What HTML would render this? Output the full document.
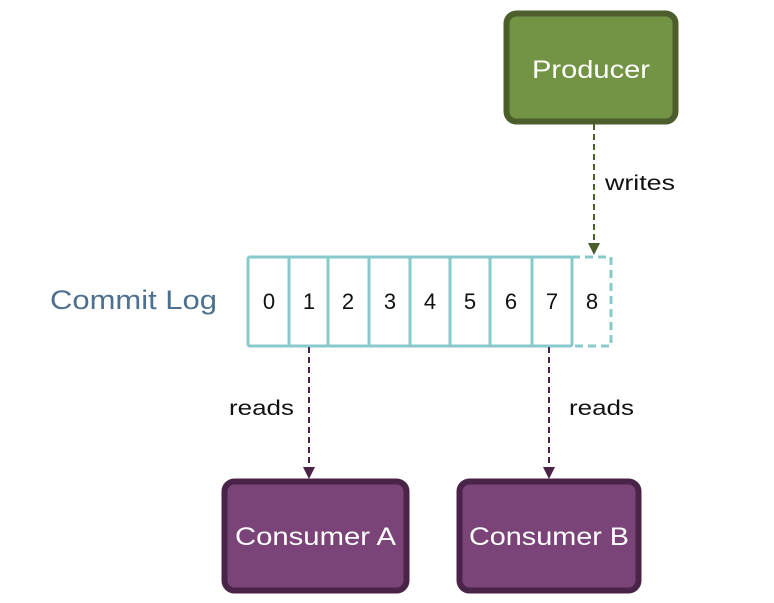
<!DOCTYPE html>
<html><head><style>body{margin:0;background:#fff}svg{display:block}</style></head><body>
<svg width="774" height="603" viewBox="0 0 774 603" xmlns="http://www.w3.org/2000/svg" font-family="'Liberation Sans', sans-serif">
<rect x="506.5" y="13.5" width="169" height="108" rx="10" fill="#739345" stroke="#4b5e2b" stroke-width="6"/>
<text x="532" y="78" font-size="25" fill="#fff" textLength="118" lengthAdjust="spacingAndGlyphs">Producer</text>
<line x1="594" y1="124" x2="594" y2="244" stroke="#4b5e2b" stroke-width="2" stroke-dasharray="6,4"/>
<polygon points="588,243 600,243 594,255" fill="#4b5e2b"/>
<text x="605" y="190" font-size="21" fill="#111" textLength="70" lengthAdjust="spacingAndGlyphs">writes</text>
<text x="50" y="309" font-size="27" fill="#4d7090" textLength="167" lengthAdjust="spacingAndGlyphs">Commit Log</text>
<g stroke="#88c9cc" stroke-width="3" fill="none">
<rect x="248" y="257" width="324" height="89" rx="2"/>
<line x1="289" y1="257" x2="289" y2="346"/><line x1="328" y1="257" x2="328" y2="346"/>
<line x1="369" y1="257" x2="369" y2="346"/><line x1="410" y1="257" x2="410" y2="346"/>
<line x1="450" y1="257" x2="450" y2="346"/><line x1="490" y1="257" x2="490" y2="346"/>
<line x1="532" y1="257" x2="532" y2="346"/>
<path d="M572 257 H611 V346 H572" stroke-dasharray="8,5"/>
</g>
<g font-size="22" fill="#111" text-anchor="middle">
<text x="269" y="309">0</text><text x="309" y="309">1</text><text x="348" y="309">2</text>
<text x="390" y="309">3</text><text x="430" y="309">4</text><text x="470" y="309">5</text>
<text x="511" y="309">6</text><text x="552" y="309">7</text><text x="592" y="309">8</text>
</g>
<g stroke="#4a2448" stroke-width="2" stroke-dasharray="6,4">
<line x1="309" y1="347" x2="309" y2="468"/><line x1="549" y1="347" x2="549" y2="468"/>
</g>
<polygon points="303,467 315,467 309,479" fill="#4a2448"/>
<polygon points="543,467 555,467 549,479" fill="#4a2448"/>
<text x="229" y="415" font-size="21" fill="#111" textLength="65" lengthAdjust="spacingAndGlyphs">reads</text>
<text x="569" y="415" font-size="21" fill="#111" textLength="65" lengthAdjust="spacingAndGlyphs">reads</text>
<rect x="224.5" y="481.5" width="182" height="109" rx="10" fill="#7a4479" stroke="#4a2448" stroke-width="6"/>
<text x="235" y="545" font-size="25" fill="#fff" textLength="161" lengthAdjust="spacingAndGlyphs">Consumer A</text>
<rect x="459.5" y="481.5" width="179" height="109" rx="10" fill="#7a4479" stroke="#4a2448" stroke-width="6"/>
<text x="469" y="545" font-size="25" fill="#fff" textLength="160" lengthAdjust="spacingAndGlyphs">Consumer B</text>
</svg>
</body></html>
